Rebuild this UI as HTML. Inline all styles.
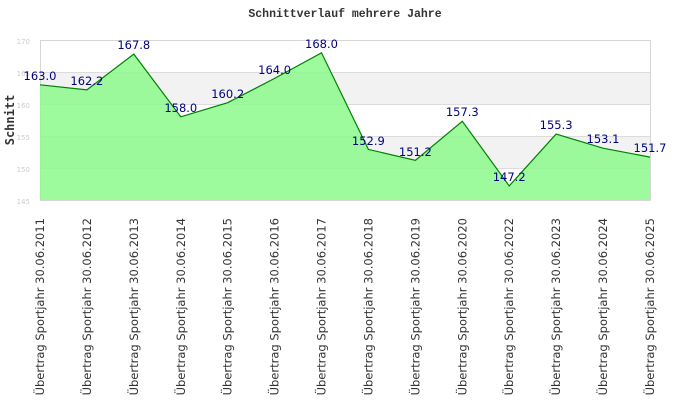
<!DOCTYPE html>
<html><head><meta charset="utf-8"><style>body{margin:0;background:#fff}svg{display:block}</style></head><body>
<svg width="690" height="420" xmlns="http://www.w3.org/2000/svg">
<rect x="40" y="72" width="610" height="32" fill="#f2f2f2"/>
<rect x="40" y="136" width="610" height="32" fill="#f2f2f2"/>
<g stroke="#dcdcdc" stroke-width="1">
<line x1="40" y1="72.5" x2="650" y2="72.5"/><line x1="40" y1="104.5" x2="650" y2="104.5"/>
<line x1="40" y1="136.5" x2="650" y2="136.5"/><line x1="40" y1="168.5" x2="650" y2="168.5"/>
</g>
<rect x="40.5" y="40.5" width="610" height="160" fill="none" stroke="#d6d6d6"/>
<polygon fill="#8cf98c" fill-opacity="0.85" points="40,200 40,84.8 86.9,89.9 133.8,54.1 180.8,116.8 227.7,102.7 274.6,78.4 321.5,52.8 368.4,149.4 415.4,160.3 462.3,121.3 509.2,185.9 556.1,134.1 603,148.2 650,157.1 650,200"/>
<polyline fill="none" stroke="#008000" stroke-width="1.2" points="40,84.8 86.9,89.9 133.8,54.1 180.8,116.8 227.7,102.7 274.6,78.4 321.5,52.8 368.4,149.4 415.4,160.3 462.3,121.3 509.2,185.9 556.1,134.1 603,148.2 650,157.1"/>
<text x="345" y="17" text-anchor="middle" font-family="Liberation Mono, monospace" font-weight="bold" font-size="11.5" fill="#333">Schnittverlauf mehrere Jahre</text>
<text transform="translate(14,120) rotate(-90)" text-anchor="middle" font-family="DejaVu Sans Mono, monospace" font-weight="bold" font-size="12" fill="#333">Schnitt</text>
<g font-family="DejaVu Sans, sans-serif" font-size="7" fill="#ccc" text-anchor="end">
<text x="30" y="44">170</text><text x="30" y="76">165</text><text x="30" y="108">160</text><text x="30" y="140">155</text><text x="30" y="172">150</text><text x="30" y="204">145</text>
</g>
<g font-family="DejaVu Sans, sans-serif" font-size="11.5" fill="#000080" text-anchor="middle">
<text x="40" y="80">163.0</text><text x="86.9" y="85">162.2</text><text x="133.8" y="49">167.8</text><text x="180.8" y="112">158.0</text><text x="227.7" y="98">160.2</text><text x="274.6" y="74">164.0</text><text x="321.5" y="48">168.0</text><text x="368.4" y="145">152.9</text><text x="415.4" y="156">151.2</text><text x="462.3" y="116">157.3</text><text x="509.2" y="181">147.2</text><text x="556.1" y="129">155.3</text><text x="603" y="143">153.1</text><text x="650" y="152">151.7</text>
</g>
<g font-family="DejaVu Sans, sans-serif" font-size="11.5" fill="#333" text-anchor="end">
<text transform="translate(44,218) rotate(-90)">Übertrag Sportjahr 30.06.2011</text>
<text transform="translate(90.9,218) rotate(-90)">Übertrag Sportjahr 30.06.2012</text>
<text transform="translate(137.8,218) rotate(-90)">Übertrag Sportjahr 30.06.2013</text>
<text transform="translate(184.8,218) rotate(-90)">Übertrag Sportjahr 30.06.2014</text>
<text transform="translate(231.7,218) rotate(-90)">Übertrag Sportjahr 30.06.2015</text>
<text transform="translate(278.6,218) rotate(-90)">Übertrag Sportjahr 30.06.2016</text>
<text transform="translate(325.5,218) rotate(-90)">Übertrag Sportjahr 30.06.2017</text>
<text transform="translate(372.4,218) rotate(-90)">Übertrag Sportjahr 30.06.2018</text>
<text transform="translate(419.4,218) rotate(-90)">Übertrag Sportjahr 30.06.2019</text>
<text transform="translate(466.3,218) rotate(-90)">Übertrag Sportjahr 30.06.2020</text>
<text transform="translate(513.2,218) rotate(-90)">Übertrag Sportjahr 30.06.2022</text>
<text transform="translate(560.1,218) rotate(-90)">Übertrag Sportjahr 30.06.2023</text>
<text transform="translate(607,218) rotate(-90)">Übertrag Sportjahr 30.06.2024</text>
<text transform="translate(654,218) rotate(-90)">Übertrag Sportjahr 30.06.2025</text>
</g>
</svg>
</body></html>
